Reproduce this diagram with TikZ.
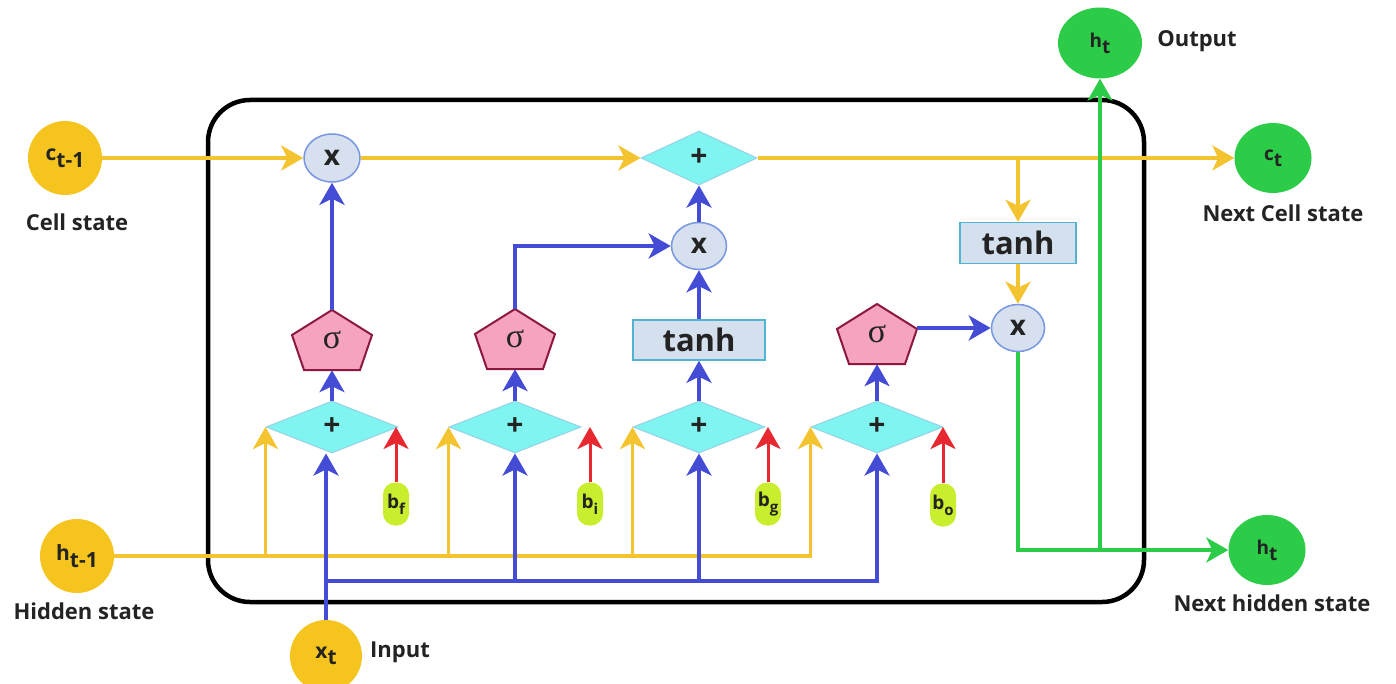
\documentclass[tikz,border=0pt]{standalone}
\usepackage{fontspec}
\setmainfont{Open Sans}
\newfontfamily\grk{Liberation Serif}
\usetikzlibrary{arrows.meta,shapes.geometric,calc}
\definecolor{ycirc}{RGB}{246,196,30}
\definecolor{yline}{RGB}{243,196,48}
\definecolor{bline}{RGB}{68,76,214}
\definecolor{rline}{RGB}{232,40,48}
\definecolor{gline}{RGB}{44,204,72}
\definecolor{cyanf}{RGB}{128,244,240}
\definecolor{cyanb}{RGB}{150,210,230}
\definecolor{multf}{RGB}{214,224,238}
\definecolor{multb}{RGB}{120,150,225}
\definecolor{tanhf}{RGB}{213,224,238}
\definecolor{tanhb}{RGB}{80,180,210}
\definecolor{pinkf}{RGB}{245,163,190}
\definecolor{pinkb}{RGB}{140,25,60}
\definecolor{pillf}{RGB}{200,238,45}
\definecolor{txt}{RGB}{35,35,35}
\newcommand\lowsub[1]{\raisebox{-0.32em}{#1}}
\newcommand\sigmanode[2]{%
  \draw[fill=pinkf,draw=pinkb,line width=2pt,line join=miter] #2 ++(0,-30) -- ++(40,25) -- ++(-12,35) -- ++(-56,0) -- ++(-12,-35) -- cycle;
  \node[sigst] (#1) at #2 {σ};}
\begin{document}
\begin{tikzpicture}[x=1pt,y=-1pt,
  font=\fontsize{22}{26}\selectfont\bfseries, text=txt,
  ystate/.style={circle,fill=ycirc,minimum size=74pt,inner sep=0pt,font=\fontsize{21}{24}\selectfont\bfseries},
  gstate/.style={ellipse,fill=gline,minimum width=77pt,minimum height=70pt,inner sep=0pt,font=\fontsize{19}{22}\selectfont\bfseries},
  lbl/.style={inner sep=0pt},
  mult/.style={ellipse,fill=multf,draw=multb,line width=1.5pt,minimum width=56pt,minimum height=48pt,inner sep=0pt,font=\fontsize{28}{28}\selectfont\bfseries},
  sumst/.style={diamond,fill=cyanf,draw=cyanb,line width=1pt,minimum width=132pt,minimum height=52pt,inner sep=0pt,font=\fontsize{30}{30}\selectfont\bfseries},
  tanhbox/.style={rectangle,fill=tanhf,draw=tanhb,line width=1.5pt,minimum width=132pt,minimum height=40pt,inner sep=0pt,font=\fontsize{31}{31}\selectfont\bfseries},
  sigst/.style={rectangle,minimum width=80pt,minimum height=60pt,inner sep=0pt,font=\grk\fontsize{34}{34}\selectfont},
  bias/.style={rectangle,rounded corners=12pt,fill=pillf,minimum width=26pt,minimum height=43pt,inner sep=0pt,font=\fontsize{19}{19}\selectfont\bfseries},
  tip/.style={-{Stealth[length=22pt,width=25pt,inset=6pt]}},
  yln/.style={draw=yline,line width=3.5pt},
  bln/.style={draw=bline,line width=3.5pt},
  gln/.style={draw=gline,line width=3.5pt},
  yarrow/.style={yln,tip},
  barrow/.style={bln,tip},
  garrow/.style={gln,tip},
  rarrow/.style={draw=rline,line width=3pt,tip}]
\useasboundingbox (0,0) rectangle (1396,684);
% frame
\draw[line width=4.5pt,rounded corners=42pt] (208,100) rectangle (1144,602);
% external states
\node[ystate] (cprev) at (65,158) {c\lowsub{t-1}};
\node[ystate] (hprev) at (77,556) {h\lowsub{t-1}};
\node[ystate,minimum size=72pt] (xt) at (326,656) {x\lowsub{t}};
\node[gstate,minimum width=84pt,minimum height=71pt] (hout) at (1100,43) {h\lowsub{t}};
\node[gstate] (ct) at (1273,158) {c\lowsub{t}};
\node[gstate] (hnext) at (1267,550) {h\lowsub{t}};
\node[lbl] (lcell) at (77,222) {Cell state};
\node[lbl] (lhid) at (84,611) {Hidden state};
\node[lbl] (linp) at (400,652) {Input};
\node[lbl] (lout) at (1197,41) {Output};
\node[lbl] (lnc) at (1283,213) {Next Cell state};
\node[lbl] (lnh) at (1272,603) {Next hidden state};
% operators
\node[mult] (x1) at (332,158) {x};
\node[sumst,minimum width=116pt,minimum height=54pt] (plus) at (699,158) {+};
\node[mult,minimum width=55pt,minimum height=47pt] (x2) at (699,246) {x};
\node[tanhbox] (tanh1) at (699,340) {tanh};
\node[tanhbox,minimum width=116pt,minimum height=41pt] (tanh2) at (1018,243) {tanh};
\node[mult,minimum width=53pt,minimum height=47pt] (x3) at (1018,328) {x};
\sigmanode{s1}{(332,340)}
\sigmanode{s2}{(515,339)}
\sigmanode{s3}{(877,334)}
\node[sumst] (d1) at (332,427) {+};
\node[sumst] (d2) at (515,427) {+};
\node[sumst] (d3) at (699,427) {+};
\node[sumst] (d4) at (877,427) {+};
\node[bias] (b1) at (396,504) {b\lowsub{\fontsize{15}{15}\selectfont f}};
\node[bias] (b2) at (590,504) {b\lowsub{\fontsize{15}{15}\selectfont i}};
\node[bias] (b3) at (768,504) {b\lowsub{\fontsize{15}{15}\selectfont g}};
\node[bias] (b4) at (943,505) {b\lowsub{\fontsize{15}{15}\selectfont o}};
% cell state line
\draw[yarrow] (cprev.east) -- (x1.west);
\draw[yarrow] (x1.east) -- (plus.west);
\draw[yarrow] (plus.east) -- (ct.west);
\coordinate (cj) at (1018,158);
\draw[yarrow] (cj) -- (tanh2.north);
\draw[yarrow] (tanh2.south) -- (x3.north);
% gates upward
\draw[barrow] (s1.north) -- (x1.south);
\draw[barrow] (s2.north) |- (x2.west);
\draw[barrow] (tanh1.north) -- (x2.south);
\draw[barrow] (x2.north) -- (plus.south);
\draw[barrow] (s3.east |- x3.west) -- (x3.west);
\draw[barrow] (d1.north) -- (s1.south);
\draw[barrow] (d2.north) -- (s2.south);
\draw[barrow] (d3.north) -- (tanh1.south);
\draw[barrow] (d4.north) -- (s3.south);
% hidden state inputs
\draw[yln] (hprev.east) -- (811,556);
\draw[yarrow] (hprev.east) -| (d1.west);
\draw[yarrow] (hprev.east) -| (d2.west);
\draw[yarrow] (hprev.east) -| (d3.west);
\draw[yarrow] (hprev.east) -| (d4.west);
% x_t inputs
\coordinate (bj) at (326,581);
\draw[barrow] (xt.north) -- (xt.north |- d1.south);
\draw[barrow] (bj) -| (d2.south);
\draw[barrow] (bj) -| (d3.south);
\draw[barrow] (bj) -| (d4.south);
% biases
\draw[rarrow] (b1.north) -- (b1.north |- d1.east);
\draw[rarrow] (b2.north) -- (b2.north |- d2.east);
\draw[rarrow] (b3.north) -- (b3.north |- d3.east);
\draw[rarrow] (b4.north) -- (b4.north |- d4.east);
% outputs
\draw[garrow] (x3.south) |- (hnext.west);
\coordinate (gj) at (1100,550);
\draw[garrow] (gj) -- (hout.south);
\end{tikzpicture}
\end{document}
